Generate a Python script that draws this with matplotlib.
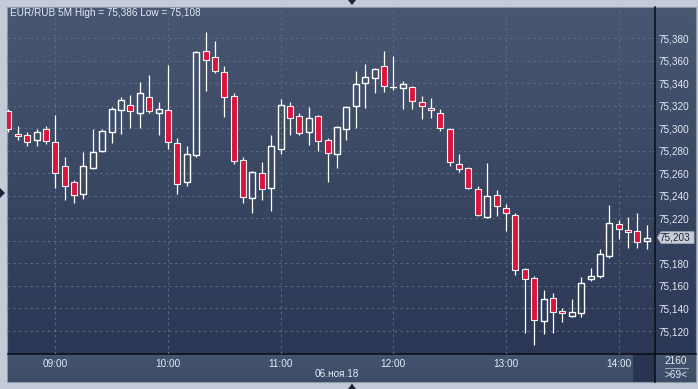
import matplotlib
matplotlib.use("Agg")
import matplotlib.pyplot as plt
from matplotlib.patches import Rectangle, Polygon
import matplotlib.transforms as mtransforms
import numpy as np

# ---------------- data ----------------
symbol = "EUR/RUB"
timeframe = "5M"
start_time = "08:35"
bar_minutes = 5
date_label = "06.ноя.18"
volume_label = "2160"

opens = [75.315, 75.295, 75.294, 75.290, 75.299, 75.288, 75.267, 75.252, 75.242, 75.265,
         75.280, 75.297, 75.316, 75.321, 75.314, 75.328, 75.314, 75.316, 75.287, 75.252,
         75.276, 75.369, 75.363, 75.350, 75.329, 75.272, 75.238, 75.260, 75.247, 75.282,
         75.320, 75.311, 75.297, 75.311, 75.290, 75.277, 75.299, 75.320, 75.340, 75.345,
         75.355, 75.337, 75.336, 75.337, 75.323, 75.318, 75.314, 75.299, 75.268, 75.265,
         75.246, 75.221, 75.241, 75.229, 75.223, 75.175, 75.167, 75.129, 75.149, 75.138,
         75.133, 75.136, 75.166, 75.169, 75.187, 75.215, 75.210, 75.209, 75.200]
highs = [75.317, 75.302, 75.297, 75.299, 75.302, 75.312, 75.275, 75.254, 75.279, 75.299,
         75.299, 75.319, 75.328, 75.330, 75.341, 75.347, 75.323, 75.356, 75.291, 75.284,
         75.369, 75.386, 75.378, 75.355, 75.331, 75.275, 75.262, 75.270, 75.294, 75.326,
         75.323, 75.314, 75.319, 75.312, 75.291, 75.302, 75.320, 75.351, 75.357, 75.354,
         75.369, 75.364, 75.342, 75.338, 75.329, 75.327, 75.317, 75.300, 75.277, 75.266,
         75.249, 75.269, 75.245, 75.233, 75.225, 75.176, 75.169, 75.156, 75.154, 75.140,
         75.148, 75.168, 75.176, 75.193, 75.232, 75.219, 75.221, 75.225, 75.214]
lows = [75.297, 75.290, 75.284, 75.284, 75.286, 75.247, 75.236, 75.234, 75.237, 75.264,
        75.279, 75.287, 75.295, 75.300, 75.300, 75.314, 75.294, 75.282, 75.242, 75.249,
        75.275, 75.333, 75.349, 75.310, 75.268, 75.234, 75.225, 75.236, 75.227, 75.277,
        75.294, 75.294, 75.285, 75.280, 75.252, 75.265, 75.290, 75.300, 75.318, 75.331,
        75.332, 75.334, 75.317, 75.317, 75.308, 75.309, 75.298, 75.267, 75.261, 75.246,
        75.222, 75.220, 75.222, 75.209, 75.170, 75.118, 75.108, 75.117, 75.118, 75.128,
        75.132, 75.132, 75.164, 75.167, 75.185, 75.202, 75.194, 75.194, 75.193]
closes = [75.299, 75.293, 75.288, 75.297, 75.289, 75.260, 75.249, 75.241, 75.267, 75.279,
          75.298, 75.317, 75.325, 75.315, 75.331, 75.315, 75.317, 75.288, 75.251, 75.277,
          75.368, 75.361, 75.351, 75.328, 75.271, 75.239, 75.261, 75.246, 75.284, 75.321,
          75.309, 75.296, 75.309, 75.289, 75.278, 75.301, 75.319, 75.339, 75.346, 75.353,
          75.338, 75.337, 75.339, 75.324, 75.320, 75.316, 75.300, 75.270, 75.264, 75.247,
          75.223, 75.240, 75.231, 75.225, 75.174, 75.166, 75.130, 75.148, 75.137, 75.136,
          75.137, 75.163, 75.169, 75.188, 75.216, 75.211, 75.208, 75.199, 75.203]

hour_labels = ["09:00", "10:00", "11:00", "12:00", "13:00", "14:00"]
price_ticks = [75.120, 75.140, 75.160, 75.180, 75.200, 75.220, 75.240, 75.260,
               75.280, 75.300, 75.320, 75.340, 75.360, 75.380]

# ---------------- helpers ----------------
def fmt(v):
    return f"{v:.3f}".replace(".", ",")

def to_min(s):
    h, m = s.split(":")
    return int(h) * 60 + int(m)

n = len(opens)
idx = np.arange(n)
start_m = to_min(start_time)
hour_pos = [(to_min(h) - start_m) / bar_minutes for h in hour_labels]

W, H = 698, 389
FONT = "Liberation Sans"
FS = 7.2
TXT = "#e4ebf5"
TOP_C = np.array([0x49, 0x57, 0x72]) / 255
BOT_C = np.array([0x2b, 0x37, 0x54]) / 255

fig = plt.figure(figsize=(W / 100, H / 100), dpi=100)
fig.patch.set_facecolor("#c2cbd7")

# background (pixel coordinates)
bg = fig.add_axes([0, 0, 1, 1])
bg.set_xlim(0, W)
bg.set_ylim(H, 0)
bg.axis("off")

px_l, px_r, px_t, px_b = 7.5, 655.0, 7.3, 354.3
panel_r, panel_b = 695.5, 381.7

grad = np.linspace(0, 1, 256)[:, None, None]
img = TOP_C[None, None, :] * (1 - grad) + BOT_C[None, None, :] * grad
bg.imshow(img, extent=[px_l, panel_r, px_b, px_t], aspect="auto", interpolation="bilinear", zorder=1)
# time axis strip
strip = np.array([0x45, 0x54, 0x6f]) / 255
strip2 = np.array([0x3c, 0x4b, 0x66]) / 255
g2 = np.linspace(0, 1, 64)[:, None, None]
img2 = strip[None, None, :] * (1 - g2) + strip2[None, None, :] * g2
bg.imshow(img2, extent=[px_l, panel_r, panel_b, px_b], aspect="auto", interpolation="bilinear", zorder=1)
bg.add_patch(Rectangle((633, px_b), px_r - 633, panel_b - px_b, facecolor="#293550", edgecolor="none", zorder=2))
bg.plot([632.5, 632.5], [px_b, panel_b], color="#2f3b55", lw=0.8, zorder=2)
bg.add_patch(Rectangle((px_l - 0.7, px_t - 0.7), panel_r - px_l + 1.4, panel_b - px_t + 1.4,
                       facecolor="none", edgecolor="#8d97a7", lw=0.8, zorder=3))
bg.plot([px_l, panel_r], [px_b, px_b], color="#0a0d14", lw=1.1, zorder=4)
bg.plot([px_r, px_r], [px_t, panel_b], color="#0a0d14", lw=1.1, zorder=4)

# small navigation triangles
tri_c = "#1c2436"
bg.add_patch(Polygon([[348, 0], [356, 0], [352, 5]], closed=True, facecolor=tri_c, edgecolor="none", zorder=5))
bg.add_patch(Polygon([[0, 188], [0, 198], [5, 193]], closed=True, facecolor=tri_c, edgecolor="none", zorder=5))
bg.add_patch(Polygon([[348, 389], [356, 389], [352, 383.5]], closed=True, facecolor=tri_c, edgecolor="none", zorder=5))

# texts in pixel coords
title = f"{symbol} {timeframe} High = {fmt(max(highs))} Low = {fmt(min(lows))}"
bg.text(10, 12.8, title, color=TXT, fontsize=FS, family=FONT, ha="left", va="center", zorder=6)
bg.text(676, 361.5, volume_label, color=TXT, fontsize=FS, family=FONT, ha="center", va="center", zorder=6)
bg.plot([665, 688], [368, 368], color="#9aa5b8", lw=0.8, zorder=6)
bg.text(676, 375, f">{n}<", color=TXT, fontsize=FS, family=FONT, ha="center", va="center", zorder=6)

# ---------------- main price axes ----------------
ax = fig.add_axes([px_l / W, (H - px_b) / H, (px_r - px_l) / W, (px_b - px_t) / H])
ax.patch.set_alpha(0)
ppu = 1125.8  # pixels per price unit (for limits only)
y_top = 75.380 + (38.3 - px_t) / ppu
y_bot = 75.380 - (px_b - 38.3) / ppu
ax.set_ylim(y_bot, y_top)
ax.set_xlim(-0.09, (px_r - 8.35) / 9.39)
for s in ax.spines.values():
    s.set_visible(False)

grid_c = "#5b6986"
for p in price_ticks:
    ax.axhline(p, color=grid_c, lw=0.8, dashes=(2.2, 3.0), zorder=1)
for hp in hour_pos:
    ax.axvline(hp, color=grid_c, lw=0.8, dashes=(2.2, 3.0), zorder=1)

last = closes[-1]
ax.yaxis.tick_right()
ax.set_yticks(price_ticks)
ax.set_yticklabels([fmt(p) if abs(p - last) > 0.008 else "" for p in price_ticks])
ax.set_xticks(hour_pos)
ax.set_xticklabels(hour_labels)
ax.tick_params(axis="y", length=0, pad=2.3, labelsize=FS, labelcolor=TXT)
ax.tick_params(axis="x", length=0, pad=3.3, labelsize=FS, labelcolor=TXT)
for lab in ax.get_xticklabels() + ax.get_yticklabels():
    lab.set_family(FONT)

# date label
ax.text((to_min("11:30") - start_m) / bar_minutes, -0.056, date_label, transform=ax.get_xaxis_transform(),
        color=TXT, fontsize=FS, family=FONT, ha="center", va="center", clip_on=False)

# candles
bw = 0.64
RED = "#dc143c"
for i in idx:
    o, h, l, c = opens[i], highs[i], lows[i], closes[i]
    top, bot = max(o, c), min(o, c)
    ax.plot([i, i], [top, h], color="white", lw=0.9, zorder=3, solid_capstyle="butt")
    ax.plot([i, i], [l, bot], color="white", lw=0.9, zorder=3, solid_capstyle="butt")
    if abs(o - c) < 1e-9:
        ax.plot([i - bw / 2, i + bw / 2], [o, o], color="white", lw=0.9, zorder=4)
    elif c > o:
        ax.add_patch(Rectangle((i - bw / 2, bot), bw, top - bot, facecolor="none",
                               edgecolor="white", lw=1.0, zorder=4))
    else:
        ax.add_patch(Rectangle((i - bw / 2, bot), bw, top - bot, facecolor=RED,
                               edgecolor="#f4f4f4", lw=0.8, zorder=4))

# last price tag
tr = mtransforms.blended_transform_factory(ax.transAxes, ax.transData)
ax_w = px_r - px_l
def axx(px):
    return (px - px_l) / ax_w
hh = 5.8 / ppu
tag = Polygon([[axx(657.5), last], [axx(661), last + hh], [axx(694), last + hh],
               [axx(694), last - hh], [axx(661), last - hh]], closed=True,
              transform=tr, facecolor="#c9ced6", edgecolor="#aab2be", lw=0.6, clip_on=False, zorder=10)
ax.add_patch(tag)
ax.text(axx(675), last, fmt(last), transform=tr, color="#1a2740", fontsize=FS, family=FONT,
        ha="center", va="center", clip_on=False, zorder=11)

fig.savefig("out.png", dpi=100, facecolor=fig.get_facecolor())
